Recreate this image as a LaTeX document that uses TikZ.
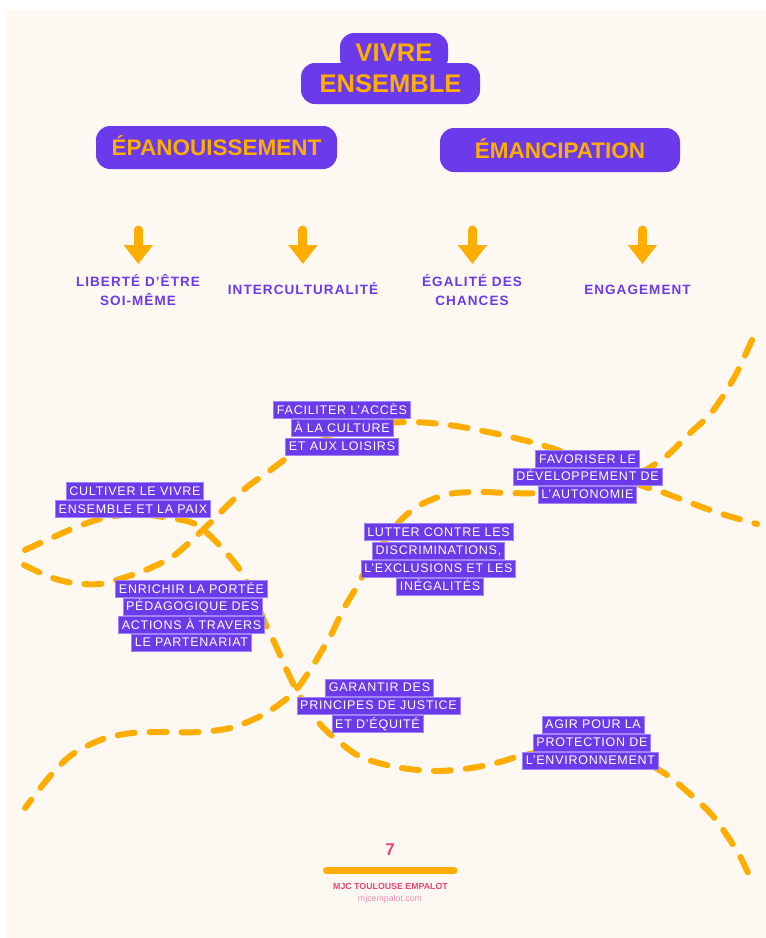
\documentclass[tikz,border=0pt]{standalone}
\usepackage{fontspec}
\setmainfont{Liberation Sans}
\newfontfamily\labfont[LetterSpace=6]{Liberation Sans}
\newfontfamily\subfont[LetterSpace=8]{Liberation Sans}
\usetikzlibrary{arrows.meta}
\definecolor{purp}{HTML}{6B3AEB}
\definecolor{orng}{HTML}{FFAE00}
\definecolor{pinkc}{HTML}{F0437A}
\definecolor{pinkl}{HTML}{F48BB0}
\definecolor{cream}{HTML}{FDF8F2}
\definecolor{lbord}{HTML}{A084F7}
\tikzset{
  hbox/.style={fill=purp, text=orng, rounded corners=14pt, inner sep=0pt, text height=16.1pt, text depth=0pt},
  hfont/.style={font=\bfseries\fontsize{22.5}{24}\selectfont},
  vfont/.style={font=\bfseries\fontsize{25.5}{27}\selectfont, text height=18.3pt},
  lb/.style={fill=purp, draw=lbord, line width=0.8pt, text=white, font=\labfont\fontsize{12.5}{14}\selectfont, inner xsep=3.2pt, inner ysep=3.75pt, text height=9pt, text depth=0.5pt},
  sub/.style={text=purp, font=\subfont\bfseries\fontsize{13.5}{19}\selectfont, anchor=base, inner sep=0pt, align=center},
  downarrow/.style={orng, line width=9pt, line cap=round, -{Triangle[width=28pt,length=19pt]}},
  wave/.style={orng, line width=6pt, line cap=round, dash pattern=on 17pt off 15pt, smooth, tension=0.55},
}
\begin{document}
\begin{tikzpicture}[x=1pt,y=-1pt]
\useasboundingbox (0,0) rectangle (766,938);
\fill[white] (0,0) rectangle (766,938);
\fill[cream] (7,10) rectangle (766,938);

% dashed curves
\draw[wave] plot coordinates {(752,340) (735,376) (712,412) (689,434) (664,458) (630,478) (590,489) (540,493) (508,493) (481,492) (449,494) (420,505) (400,521) (382,545) (368,566) (356,588) (343,610) (332,633) (321,652) (310,670) (293,693) (266,713) (234,727) (200,732) (161,732) (132,733) (103,739) (73,754) (51,775) (25,808)};
\draw[wave] plot coordinates {(25,550) (47,540) (72,529) (100,519) (135,514) (170,518) (193,523) (207,533) (222,548) (240,570) (254,597) (266,625) (276,646) (288,673) (301,698) (320,724) (337,740) (361,757) (396,767) (435,771) (471,768) (500,762) (520,756) (560,749) (605,750) (640,760) (667,775) (690,794) (712,815) (730,840) (742,860) (752,882)};
\draw[wave] plot coordinates {(24,565) (50,577) (73,583) (100,584) (123,578) (148,569) (172,557) (192,540) (210,523) (230,503) (247,487) (268,472) (293,454) (330,435) (370,425) (410,422) (449,425) (488,432) (515,438) (538,444) (560,451) (600,468) (640,485) (662,492) (683,500) (710,510) (732,517) (757,524)};

% title
\node[hbox, vfont, minimum width=108pt, minimum height=39pt] (vivre) at (394,52.5) {VIVRE};
\node[hbox, vfont, minimum width=179pt, minimum height=41pt] (ensemble) at (390.5,83.5) {ENSEMBLE};

\node[hbox, hfont, minimum width=241pt, minimum height=43pt] (epa) at (216.5,147.5) {ÉPANOUISSEMENT};
\node[hbox, hfont, minimum width=240pt, minimum height=44pt] (ema) at (560,150) {ÉMANCIPATION};

% arrows
\foreach \n/\x in {1/138.3,2/302.9,3/472.4,4/642.4}{
  \coordinate (as\n) at (\x,230);
  \coordinate (ae\n) at (\x,264);
}
\draw[downarrow] (as1) -- (ae1);
\draw[downarrow] (as2) -- (ae2);
\draw[downarrow] (as3) -- (ae3);
\draw[downarrow] (as4) -- (ae4);

\node[sub] (lib) at (138,305) {LIBERTÉ D’ÊTRE\\SOI-MÊME};
\node[sub] (inter) at (303,294) {INTERCULTURALITÉ};
\node[sub] (ega) at (472,305) {ÉGALITÉ DES\\CHANCES};
\node[sub] (eng) at (637.5,294) {ENGAGEMENT};

% label boxes
\node[lb] (fac1) at (342,410) {FACILITER L’ACCÈS};
\node[lb] (fac2) at (342,428) {À LA CULTURE};
\node[lb] (fac3) at (342,446.5) {ET AUX LOISIRS};

\node[lb] (cul1) at (135,491) {CULTIVER LE VIVRE};
\node[lb] (cul2) at (133,509) {ENSEMBLE ET LA PAIX};

\node[lb] (fav1) at (587.5,459) {FAVORISER LE};
\node[lb] (fav2) at (587.5,476.5) {DÉVELOPPEMENT DE};
\node[lb] (fav3) at (587.5,494.5) {L’AUTONOMIE};

\node[lb] (lut1) at (438.5,532) {LUTTER CONTRE LES};
\node[lb] (lut2) at (438.5,550.5) {DISCRIMINATIONS,};
\node[lb] (lut3) at (438.5,568.5) {L’EXCLUSIONS ET LES};
\node[lb] (lut4) at (440,586.5) {INÉGALITÉS};

\node[lb] (enr1) at (191.5,589) {ENRICHIR LA PORTÉE};
\node[lb] (enr2) at (192.5,606.5) {PÉDAGOGIQUE DES};
\node[lb] (enr3) at (191.5,625) {ACTIONS À TRAVERS};
\node[lb] (enr4) at (191.5,642.5) {LE PARTENARIAT};

\node[lb] (gar1) at (379.5,687.5) {GARANTIR DES};
\node[lb] (gar2) at (378.5,705.5) {PRINCIPES DE JUSTICE};
\node[lb] (gar3) at (377.5,724) {ET D’ÉQUITÉ};

\node[lb] (agi1) at (593,724.5) {AGIR POUR LA};
\node[lb] (agi2) at (592,742.5) {PROTECTION DE};
\node[lb] (agi3) at (590.5,760.5) {L’ENVIRONNEMENT};

% footer
\node[text=pinkc, font=\bfseries\fontsize{17}{18}\selectfont, anchor=base, inner sep=0pt] (seven) at (390,855) {7};
\coordinate (barl) at (326.5,870.5);
\coordinate (barr) at (454,870.5);
\draw[orng, line width=7pt, line cap=round] (barl) -- (barr);
\node[text=pinkc, font=\bfseries\fontsize{8.8}{10}\selectfont, anchor=base, inner sep=0pt] (mjc) at (390.5,889) {MJC TOULOUSE EMPALOT};
\node[text=pinkl, font=\fontsize{8.8}{10}\selectfont, anchor=base, inner sep=0pt] (url) at (390,901) {mjcempalot.com};
\end{tikzpicture}
\end{document}
